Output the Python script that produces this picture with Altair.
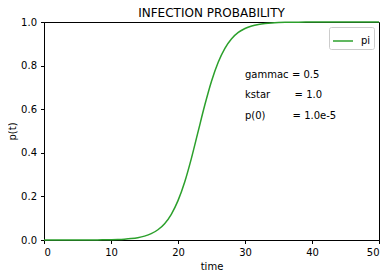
import altair as alt
import pandas as pd

# values
time = [0, 2, 4, 6, 8, 10, 11, 12, 13, 14, 15, 16, 17, 18, 19, 20, 21, 22, 23, 24,
        25, 26, 27, 28, 29, 30, 31, 32, 33, 34, 35, 36, 38, 40, 42, 45, 50]
pi = [0.00001, 0.00003, 0.00007, 0.0002, 0.00055, 0.0015, 0.0024, 0.004, 0.0066,
      0.0108, 0.0178, 0.029, 0.047, 0.075, 0.118, 0.1805, 0.266, 0.3745, 0.497,
      0.619, 0.7285, 0.8156, 0.8794, 0.9232, 0.952, 0.9703, 0.9818, 0.9889, 0.9932,
      0.9959, 0.9975, 0.9985, 0.9994, 0.9998, 0.9999, 0.9999, 1.0]
series = ["pi"]
title_text = ["INFECTION PROBABILITY"]
ann_names = ["gammac", "kstar", "p(0)"]
ann_values = ["= 0.5", "= 1.0", "= 1.0e-5"]
ann_y = [0.745, 0.65, 0.553]
ann_x_eq = [37.0, 37.4, 37.1]
x_ticks = [0, 10, 20, 30, 40, 50]
y_ticks = [0.0, 0.2, 0.4, 0.6, 0.8, 1.0]

df = pd.DataFrame({"time": time, "p": pi, "series": series[0]})
ann = pd.DataFrame({"name": ann_names, "value": ann_values, "y": ann_y,
                    "x1": 30.0, "x2": ann_x_eq})
tdf = pd.DataFrame({"t": title_text, "x": [25.0], "y": [1.0]})

FONT = "DejaVu Sans"
xs = alt.Scale(domain=[0, 50], nice=False, zero=False)
ys = alt.Scale(domain=[0, 1], nice=False, zero=False)

line = alt.Chart(df).mark_line(strokeWidth=1.5, interpolate="monotone").encode(
    x=alt.X("time:Q", scale=xs, title="time",
            axis=alt.Axis(values=x_ticks, format="d")),
    y=alt.Y("p:Q", scale=ys, title="p(t)",
            axis=alt.Axis(values=y_ticks, format=".1f")),
    color=alt.Color("series:N", scale=alt.Scale(domain=series, range=["#2ca02c"]),
                    legend=alt.Legend(title=None, orient="top-right", offset=5,
                                      symbolType="stroke", symbolSize=400,
                                      symbolStrokeWidth=1.5, labelFontSize=10,
                                      labelFont=FONT, labelColor="#000",
                                      strokeColor="#cccccc", fillColor="white",
                                      padding=3, cornerRadius=2, labelOffset=7)),
)

names = alt.Chart(ann).mark_text(align="left", baseline="alphabetic", font=FONT,
                                 fontSize=10, color="#000").encode(
    x=alt.X("x1:Q", scale=xs), y=alt.Y("y:Q", scale=ys), text="name:N")
vals = alt.Chart(ann).mark_text(align="left", baseline="alphabetic", font=FONT,
                                fontSize=10, color="#000").encode(
    x=alt.X("x2:Q", scale=xs), y=alt.Y("y:Q", scale=ys), text="value:N")
title = alt.Chart(tdf).mark_text(align="center", baseline="alphabetic", font=FONT,
                                 fontSize=12, color="#000", dy=-5).encode(
    x=alt.X("x:Q", scale=xs), y=alt.Y("y:Q", scale=ys), text="t:N")

chart = alt.layer(line, names, vals, title).properties(
    width=335, height=218,
    autosize=alt.AutoSizeParams(type="none"),
    padding={"left": 36, "top": 14, "right": 5, "bottom": 30},
).configure_view(stroke="#000", strokeWidth=1).configure_axis(
    grid=False, labelFont=FONT, labelFontSize=10, labelColor="#000",
    titleFont=FONT, titleFontSize=10, titleColor="#000", titleFontWeight="normal",
    tickColor="#000", domainColor="#000", tickSize=3.5, labelPadding=4,
).configure_axisX(titlePadding=4).configure_axisY(titlePadding=3)

chart.save("out.html", embed_options={"renderer": "svg", "actions": False})
